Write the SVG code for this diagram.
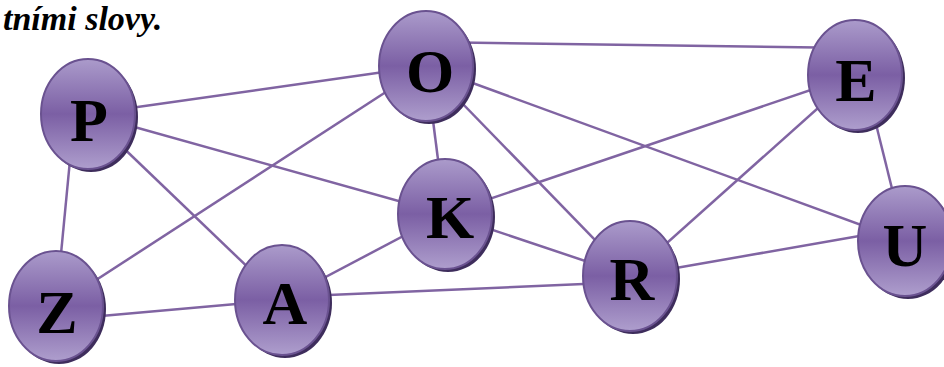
<svg xmlns="http://www.w3.org/2000/svg" width="944" height="367" viewBox="0 0 944 367">
<defs>
<linearGradient id="g" x1="0" y1="0" x2="0" y2="1">
<stop offset="0" stop-color="#ab9bcb"/>
<stop offset="0.5" stop-color="#7b5fa4"/>
<stop offset="1" stop-color="#ae9ecd"/>
</linearGradient>
<style>
.e{stroke:#8064a2;stroke-width:2.5;fill:none}
.n{fill:url(#g);stroke:#6a5290;stroke-width:2}
.s{fill:#3e2d5c}
.t{font-family:"Liberation Serif","Times New Roman",serif;font-weight:bold;font-size:62px;fill:#000;text-anchor:middle}
.h{font-family:"Liberation Serif","Times New Roman",serif;font-weight:bold;font-style:italic;font-size:34px;fill:#000}
</style>
</defs>
<rect width="944" height="367" fill="#fff"/>
<text class="h" x="3" y="30">tními slovy.</text>
<g id="connectors">
<line class="e" x1="88" y1="114" x2="426" y2="66"/>
<line class="e" x1="88" y1="114" x2="445" y2="214"/>
<line class="e" x1="88" y1="114" x2="282" y2="300"/>
<line class="e" x1="70" y1="160" x2="56" y2="306"/>
<line class="e" x1="426" y1="42" x2="855" y2="48"/>
<line class="e" x1="426" y1="66" x2="445" y2="214"/>
<line class="e" x1="426" y1="66" x2="630" y2="276"/>
<line class="e" x1="426" y1="66" x2="905" y2="241"/>
<line class="e" x1="426" y1="66" x2="56" y2="306"/>
<line class="e" x1="855" y1="75" x2="445" y2="214"/>
<line class="e" x1="855" y1="75" x2="630" y2="276"/>
<line class="e" x1="870" y1="100" x2="905" y2="241"/>
<line class="e" x1="445" y1="214" x2="282" y2="300"/>
<line class="e" x1="445" y1="214" x2="630" y2="276"/>
<line class="e" x1="630" y1="276" x2="905" y2="228"/>
<line class="e" x1="282" y1="297" x2="630" y2="282"/>
<line class="e" x1="56" y1="320" x2="282" y2="300"/>
</g>
<g id="node-P"><ellipse class="s" cx="91" cy="117" rx="47" ry="55"/><ellipse class="n" cx="88" cy="114" rx="47" ry="55"/><text class="t" x="89" y="141">P</text></g>
<g id="node-O"><ellipse class="s" cx="429" cy="69" rx="47" ry="55"/><ellipse class="n" cx="426" cy="66" rx="47" ry="55"/><text class="t" x="430" y="92">O</text></g>
<g id="node-E"><ellipse class="s" cx="858" cy="78" rx="47" ry="55"/><ellipse class="n" cx="855" cy="75" rx="47" ry="55"/><text class="t" x="856" y="101">E</text></g>
<g id="node-K"><ellipse class="s" cx="448" cy="217" rx="47" ry="55"/><ellipse class="n" cx="445" cy="214" rx="47" ry="55"/><text class="t" x="450" y="238">K</text></g>
<g id="node-U"><ellipse class="s" cx="908" cy="244" rx="47" ry="55"/><ellipse class="n" cx="905" cy="241" rx="47" ry="55"/><text class="t" x="905" y="266">U</text></g>
<g id="node-R"><ellipse class="s" cx="633" cy="279" rx="47" ry="55"/><ellipse class="n" cx="630" cy="276" rx="47" ry="55"/><text class="t" x="632" y="300">R</text></g>
<g id="node-A"><ellipse class="s" cx="285" cy="303" rx="47" ry="55"/><ellipse class="n" cx="282" cy="300" rx="47" ry="55"/><text class="t" x="285" y="324">A</text></g>
<g id="node-Z"><ellipse class="s" cx="59" cy="309" rx="47" ry="55"/><ellipse class="n" cx="56" cy="306" rx="47" ry="55"/><text class="t" x="57" y="333">Z</text></g>
</svg>
